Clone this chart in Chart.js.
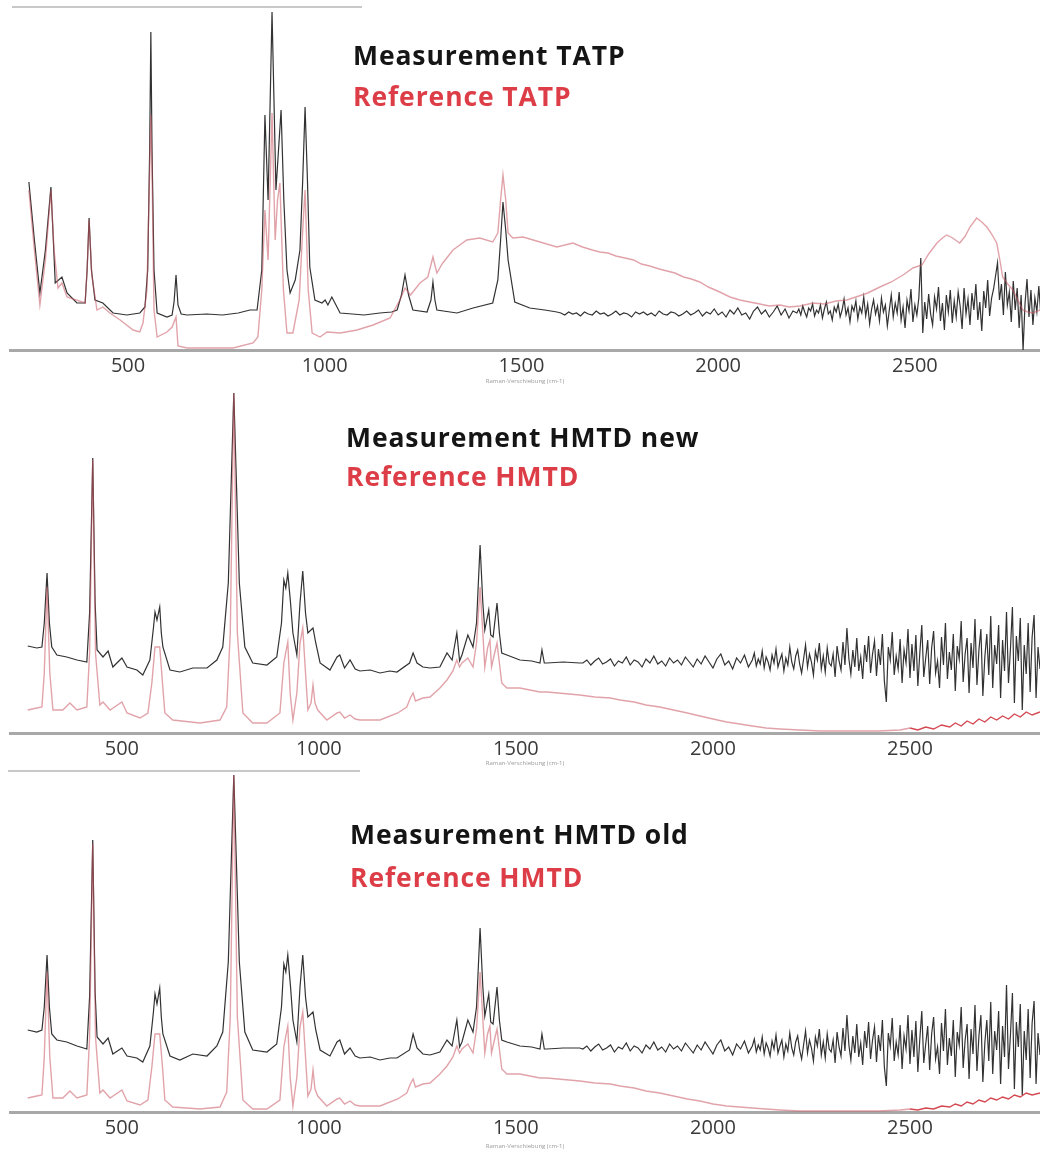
<!DOCTYPE html>
<html>
<head>
<meta charset="utf-8">
<script src="https://cdn.jsdelivr.net/npm/chart.js@4.4.1/dist/chart.umd.min.js"></script>
<style>
  body { margin: 0; width: 1040px; height: 1153px; background: #fff; position: relative; overflow: hidden; font-family: "Open Sans", sans-serif; }
  canvas { position: absolute; left: 0; }
  .label { position: absolute; font-weight: 700; font-size: 26.5px; line-height: 26px; letter-spacing: 0.9px; white-space: nowrap; }
  .meas { color: #151515; }
  .ref { color: #dc3d47; }
  .rule { position: absolute; height: 2px; background: #c8c8c8; }
</style>
</head>
<body>
<div class="rule" style="left:12px; top:6px; width:350px"></div>
<div class="rule" style="left:8px; top:770px; width:352px"></div>

<canvas id="tatpChart" width="1040" height="390" style="top:0"></canvas>
<canvas id="hmtdNewChart" width="1040" height="388" style="top:385px"></canvas>
<canvas id="hmtdOldChart" width="1040" height="382" style="top:770px"></canvas>

<div class="label meas" style="left:353px; top:42px">Measurement TATP</div>
<div class="label ref" style="left:353px; top:83px">Reference TATP</div>
<div class="label meas" style="left:346px; top:424px">Measurement HMTD new</div>
<div class="label ref" style="left:346px; top:463px">Reference HMTD</div>
<div class="label meas" style="left:350px; top:821px">Measurement HMTD old</div>
<div class="label ref" style="left:350px; top:864px">Reference HMTD</div>

<script>
const tickValues = [500, 1000, 1500, 2000, 2500];

// ---- TATP: measurement (black) and reference (red), [shift cm-1, counts]
const tatpMeasPeaks = [
  [248,168],[262,110],[276,57],[290,100],[304,163],[309,120],[315,67],[332,73],[345,57],[370,47],
  [391,47],[396,80],[401,132],[407,80],[416,50],[436,47],[462,37],[497,35],[530,37],[543,43],
  [550,80],[555,200],[558,318],[561,200],[566,80],[574,37],[599,33],[612,35],[617,48],[622,75],
  [627,45],[635,36],[650,35],[700,36],[740,35],[780,37],[810,40],[828,40],[840,80],[848,235],
  [856,150],[866,338],[876,160],[889,240],[896,150],[904,80],[912,57],[925,70],[937,100],[944,170],
  [950,243],[956,170],[962,83],[975,50],[993,47],[1001,50],[1008,45],[1018,53],[1039,37],[1070,36],
  [1100,35],[1140,37],[1170,38],[1184,40],[1195,55],[1204,75],[1213,55],[1224,40],[1260,38],[1270,50],
  [1275,68],[1280,50],[1285,40],[1336,37],[1377,42],[1427,47],[1440,70],[1447,110],[1453,148],[1460,120],
  [1466,90],[1483,48],[1521,42],[1559,40],[1590,38]
];
// evenly sampled noisy tail: quiet part every 10 cm-1, noisy part every 5 cm-1
const tatpMeasQuiet = [
  37,35,38,36,37,34,38,36,35,39,36,
  37,34,36,39,35,37,36,33,38,36,
  38,35,37,34,39,36,35,38,37,34,
  36,39,35,37,40,34,38,36,41,35,
  38,33,40,36,42,35,37,31,39,43,
  36,40,33,38,44,35,41,32,39,37
];
const tatpMeasNoisy = [
  41,35,44,38,33,42,39,46,34,40,
  37,45,32,41,48,36,39,30,43,38,
  46,33,40,51,35,42,28,44,39,49,
  31,43,37,53,34,46,26,41,50,36,
  44,29,52,38,45,24,40,55,33,47,
  37,58,30,43,22,50,39,61,28,45,
  35,52,92,17,48,31,56,36,25,53,
  41,63,29,47,20,55,38,60,27,49,
  33,58,44,21,62,36,51,25,57,40,
  66,30,48,19,59,42,70,34,52,61,
  74,87,50,66,35,78,45,58,28,69,
  40,62,22,55,0,47,71,33,60,25,
  52,38,64,35
];
const tatpRef = [
  [248,160],[262,100],[276,45],[290,90],[304,160],[312,100],[322,62],[332,67],[345,53],[391,47],
  [396,80],[401,130],[408,75],[421,40],[436,43],[454,37],[480,30],[513,20],[530,18],[538,27],
  [548,60],[555,180],[558,235],[561,180],[566,40],[574,13],[599,18],[612,23],[622,33],[627,4],
  [650,2],[700,2],[767,2],[818,7],[830,13],[840,60],[848,140],[856,90],[866,237],[874,110],
  [880,150],[886,167],[895,60],[904,17],[919,17],[935,50],[944,120],[950,160],[958,60],[968,17],
  [988,13],[1006,18],[1039,17],[1082,20],[1123,25],[1166,32],[1191,50],[1204,62],[1218,55],[1242,67],
  [1262,73],[1275,93],[1285,77],[1300,87],[1326,100],[1361,110],[1394,112],[1427,108],[1440,117],[1447,150],
  [1453,175],[1460,150],[1466,117],[1478,112],[1504,113],[1547,108],[1590,103],[1631,107],[1655,103],[1680,100],
  [1699,98],[1720,97],[1740,94],[1763,92],[1785,90],[1805,86],[1826,84],[1850,81],[1870,79],[1890,77],
  [1912,73],[1932,71],[1953,68],[1975,63],[2004,58],[2030,53],[2055,50],[2080,48],[2106,46],[2130,44],
  [2157,45],[2180,43],[2208,44],[2241,47],[2270,46],[2300,49],[2327,50],[2350,53],[2380,57],[2411,63],
  [2440,68],[2470,75],[2495,82],[2518,85],[2535,96],[2556,107],[2570,112],[2581,115],[2596,112],[2614,107],
  [2628,114],[2640,123],[2657,132],[2670,128],[2683,123],[2695,116],[2708,107],[2716,90],[2723,73],[2736,66],
  [2749,60],[2762,50],[2774,40],[2787,38],[2800,37],[2818,40]
];

// ---- HMTD new
const hmtdNewMeasPeaks = [
  [261,87],[284,85],[297,86],[303,110],[310,160],[316,110],[322,86],[335,78],[360,76],[386,73],
  [411,71],[418,120],[426,275],[432,130],[437,83],[452,76],[465,82],[477,66],[500,75],[513,66],
  [538,63],[553,58],[571,73],[580,105],[584,121],[589,113],[596,126],[600,100],[604,86],[622,63],
  [647,61],[680,65],[716,65],[741,73],[756,86],[770,150],[784,340],[798,150],[812,86],[832,70],
  [868,68],[893,76],[905,110],[911,153],[916,145],[921,160],[928,130],[934,100],[944,78],[952,130],
  [959,162],[966,120],[972,100],[985,105],[992,90],[1003,70],[1028,63],[1046,76],[1053,78],[1065,65],
  [1079,73],[1092,64],[1104,62],[1130,63],[1155,60],[1180,62],[1198,61],[1230,70],[1239,80],[1249,70],
  [1264,66],[1282,65],[1307,66],[1325,80],[1338,73],[1350,100],[1357,72],[1363,78],[1378,98],[1391,86],
  [1400,110],[1409,188],[1416,130],[1421,103],[1431,123],[1436,98],[1442,96],[1452,130],[1458,100],[1464,80],
  [1477,78],[1510,73],[1540,72],[1561,70],[1566,83],[1572,70],[1579,70],[1620,71],[1662,70]
];
const hmtdNewMeasQuiet = [
  70,73,68,72,75,69,71,74,67,72,
  70,76,68,73,71,66,74,70,77,69,
  72,67,75,70,73,68,76,71,66,74,
  69,77,71,65,74,79,68,72,64,75,
  70,78,66,73
];
const hmtdNewMeasNoisy = [
  80,67,74,69,82,65,76,71,63,78,
  70,84,66,73,79,62,75,68,86,71,
  64,77,83,69,60,74,88,66,79,71,
  58,82,73,90,64,77,61,85,70,67,
  79,56,87,72,63,91,68,105,74,59,
  83,66,95,62,76,54,88,71,97,60,
  79,92,57,84,68,99,52,31,86,73,
  101,58,77,64,94,50,83,70,104,55,
  89,62,98,47,80,108,56,75,93,49,
  85,102,60,72,45,96,68,110,54,81,
  63,99,42,87,74,112,51,79,95,40,
  90,65,114,48,83,104,37,76,99,58,
  117,45,88,69,108,35,93,62,121,50,
  84,126,30,97,72,115,23,88,59,110,
  41,96,118,35,86,64
];
const hmtdNewRef = [
  [261,23],[284,25],[297,26],[303,60],[310,146],[317,60],[325,23],[350,23],[368,30],[386,23],
  [411,26],[418,80],[426,273],[433,80],[444,28],[452,31],[470,23],[500,31],[513,20],[546,15],
  [566,20],[576,50],[584,86],[596,86],[603,50],[609,20],[629,13],[698,10],[749,13],[766,26],
  [775,100],[784,340],[793,100],[807,20],[832,10],[868,10],[901,20],[911,70],[916,81],[921,91],
  [927,40],[934,13],[944,40],[952,90],[959,105],[966,60],[972,23],[980,30],[985,48],[990,30],
  [997,23],[1020,13],[1046,20],[1053,21],[1065,15],[1079,18],[1092,14],[1104,13],[1155,13],[1200,20],
  [1223,26],[1232,35],[1239,40],[1245,32],[1264,35],[1282,36],[1307,45],[1325,53],[1340,62],[1350,73],
  [1357,66],[1363,70],[1378,75],[1391,66],[1400,90],[1409,146],[1416,100],[1421,66],[1428,85],[1434,93],
  [1438,66],[1446,80],[1452,90],[1458,70],[1464,50],[1477,45],[1510,45],[1561,41],[1579,41],[1662,38],
  [1700,36],[1740,35],[1764,33],[1800,31],[1830,28],[1865,26],[1900,23],[1935,20],[1967,17],[2000,14],
  [2035,11],[2068,9],[2100,7],[2135,5],[2170,4],[2220,3],[2272,2],[2320,2],[2373,2],[2420,2],
  [2475,3],[2500,5],[2520,3],[2540,6],[2560,4],[2580,8],[2601,6],[2615,10],[2630,7],[2645,12],
  [2660,9],[2675,14],[2690,11],[2705,16],[2720,13],[2735,17],[2750,14],[2765,19],[2780,16],[2795,21],
  [2810,18],[2830,21]
];

// ---- HMTD old
const hmtdOldMeasPeaks = [
  [261,82],[284,80],[297,82],[303,105],[310,157],[316,105],[322,78],[335,72],[360,70],[386,66],
  [411,63],[418,115],[426,272],[432,120],[437,75],[452,68],[465,74],[477,58],[500,64],[513,56],
  [538,54],[553,50],[571,66],[580,100],[584,118],[589,108],[596,124],[600,95],[604,78],[622,56],
  [647,52],[680,58],[716,56],[741,66],[756,80],[770,150],[784,337],[798,150],[812,80],[832,62],
  [868,60],[893,68],[905,105],[911,148],[916,140],[921,157],[928,125],[934,92],[944,70],[952,125],
  [959,157],[966,115],[972,95],[985,100],[992,82],[1003,62],[1028,56],[1046,70],[1053,72],[1065,58],
  [1079,64],[1092,56],[1104,54],[1130,55],[1155,52],[1180,54],[1198,54],[1230,62],[1239,78],[1249,64],
  [1264,58],[1282,57],[1307,60],[1325,72],[1338,66],[1350,92],[1357,65],[1363,70],[1378,92],[1391,80],
  [1400,105],[1409,184],[1416,125],[1421,96],[1431,118],[1436,90],[1442,88],[1452,125],[1458,92],[1464,72],
  [1477,70],[1510,66],[1540,65],[1561,63],[1566,78],[1572,63],[1579,63],[1620,64],[1662,64]
];
const hmtdOldMeasQuiet = [
  63,66,61,65,68,62,64,67,60,65,
  63,69,61,66,64,59,67,63,70,62,
  65,60,68,63,66,61,69,64,59,67,
  62,70,64,58,67,72,61,65,57,68,
  63,71,59,66
];
const hmtdOldMeasNoisy = [
  73,60,67,62,75,58,69,64,56,71,
  63,77,59,66,72,55,68,61,79,64,
  57,70,76,62,53,67,81,59,72,64,
  51,75,66,83,57,70,54,78,63,60,
  72,49,80,65,56,84,61,97,67,52,
  76,59,88,55,69,47,81,64,90,53,
  72,85,50,77,61,92,45,26,79,66,
  94,51,70,57,87,43,76,63,97,48,
  82,55,91,40,73,101,49,68,86,42,
  78,95,53,65,38,89,61,103,47,74,
  56,92,35,80,67,105,44,72,88,33,
  83,58,107,41,76,97,30,69,92,51,
  110,38,81,62,101,28,86,55,127,43,
  77,119,23,90,65,108,17,81,52,103,
  34,89,111,28,79,57
];
const hmtdOldRef = [
  [261,14],[284,16],[297,17],[303,55],[310,140],[317,55],[325,14],[350,14],[368,21],[386,14],
  [411,17],[418,75],[426,268],[433,75],[444,19],[452,22],[470,14],[500,22],[513,11],[546,7],
  [566,12],[576,45],[584,78],[596,78],[603,45],[609,12],[629,5],[698,3],[749,5],[766,20],
  [775,95],[784,337],[793,95],[807,12],[832,3],[868,3],[901,12],[911,65],[916,76],[921,86],
  [927,35],[934,6],[944,35],[952,85],[959,100],[966,55],[972,16],[980,23],[985,42],[990,23],
  [997,16],[1020,6],[1046,13],[1053,14],[1065,8],[1079,11],[1092,7],[1104,6],[1155,6],[1200,13],
  [1223,19],[1232,28],[1239,33],[1245,25],[1264,28],[1282,29],[1307,38],[1325,46],[1340,55],[1350,66],
  [1357,59],[1363,63],[1378,68],[1391,59],[1400,83],[1409,140],[1416,93],[1421,59],[1428,78],[1434,86],
  [1438,59],[1446,73],[1452,83],[1458,63],[1464,43],[1477,38],[1510,38],[1561,34],[1579,34],[1662,31],
  [1700,29],[1740,28],[1764,26],[1800,24],[1830,21],[1865,19],[1900,16],[1935,13],[1967,11],[2000,8],
  [2035,6],[2068,5],[2100,4],[2135,3],[2170,2],[2220,1],[2272,1],[2320,1],[2373,1],[2420,1],
  [2475,2],[2500,3],[2520,2],[2540,4],[2560,3],[2580,6],[2601,5],[2615,8],[2630,6],[2645,10],
  [2660,8],[2675,12],[2690,10],[2705,14],[2720,12],[2735,15],[2750,13],[2765,17],[2780,15],[2795,19],
  [2810,17],[2830,19]
];

const MEAS_COLOR = 'rgba(22,22,22,0.88)';
const REF_COLOR = 'rgba(200,88,98,0.55)';
const REF_VIVID = 'rgba(205,40,52,0.85)';
const AXIS_HEIGHT = 40;

const toPoints = pairs => pairs.map(([x, y]) => ({x, y}));
const sampled = (start, step, values) => values.map((y, i) => ({x: start + i * step, y}));

const makePanel = (id, cfg) => {
    const ctx = document.getElementById(id).getContext('2d');
    return new Chart(ctx, {
        type: 'line',
        data: {
            datasets: [
                {
                    label: cfg.refLabel,
                    data: cfg.ref,
                    borderColor: REF_COLOR,
                    borderWidth: 1.4,
                    order: 0,
                    segment: {
                        borderColor: c => c.p0.parsed.x > cfg.vividFrom ? REF_VIVID : undefined
                    }
                },
                {
                    label: cfg.measLabel,
                    data: cfg.meas,
                    borderColor: MEAS_COLOR,
                    borderWidth: 1.2,
                    order: 1
                }
            ]
        },
        options: {
            responsive: false,
            animation: false,
            layout: {padding: {left: 10, right: 0, top: 0, bottom: 0}},
            elements: {point: {radius: 0}, line: {tension: 0, fill: false}},
            plugins: {legend: {display: false}, tooltip: {enabled: false}},
            scales: {
                x: {
                    type: 'linear',
                    min: cfg.xMin,
                    max: cfg.xMax,
                    afterBuildTicks: s => { s.ticks = tickValues.map(v => ({value: v})); },
                    afterFit: s => { s.height = AXIS_HEIGHT; },
                    grid: {display: false, drawTicks: false},
                    border: {display: true, color: '#a8a8a8', width: 3},
                    ticks: {
                        padding: 4,
                        autoSkip: false,
                        maxRotation: 0,
                        color: '#3a3a3a',
                        font: {family: '"Open Sans", sans-serif', size: 20},
                        callback: v => String(v)
                    },
                    title: {
                        display: true,
                        text: 'Raman-Verschiebung (cm-1)',
                        color: '#9a9a9a',
                        font: {family: '"Open Sans", sans-serif', size: 6},
                        padding: {top: 0, bottom: cfg.titlePad}
                    }
                },
                y: {display: false, min: 0, max: cfg.yMax}
            }
        }
    });
};

makePanel('tatpChart', {
    measLabel: 'Measurement TATP',
    refLabel: 'Reference TATP',
    meas: toPoints(tatpMeasPeaks)
        .concat(sampled(1600, 10, tatpMeasQuiet))
        .concat(sampled(2205, 5, tatpMeasNoisy)),
    ref: toPoints(tatpRef),
    xMin: 200, xMax: 2818, yMax: 350, titlePad: 5, vividFrom: Infinity
});

makePanel('hmtdNewChart', {
    measLabel: 'Measurement HMTD new',
    refLabel: 'Reference HMTD',
    meas: toPoints(hmtdNewMeasPeaks)
        .concat(sampled(1670, 10, hmtdNewMeasQuiet))
        .concat(sampled(2105, 5, hmtdNewMeasNoisy)),
    ref: toPoints(hmtdNewRef),
    xMin: 216, xMax: 2830, yMax: 348, titlePad: 6, vividFrom: 2480
});

makePanel('hmtdOldChart', {
    measLabel: 'Measurement HMTD old',
    refLabel: 'Reference HMTD',
    meas: toPoints(hmtdOldMeasPeaks)
        .concat(sampled(1670, 10, hmtdOldMeasQuiet))
        .concat(sampled(2105, 5, hmtdOldMeasNoisy)),
    ref: toPoints(hmtdOldRef),
    xMin: 216, xMax: 2830, yMax: 342, titlePad: 2, vividFrom: 2480
});
</script>
</body>
</html>
